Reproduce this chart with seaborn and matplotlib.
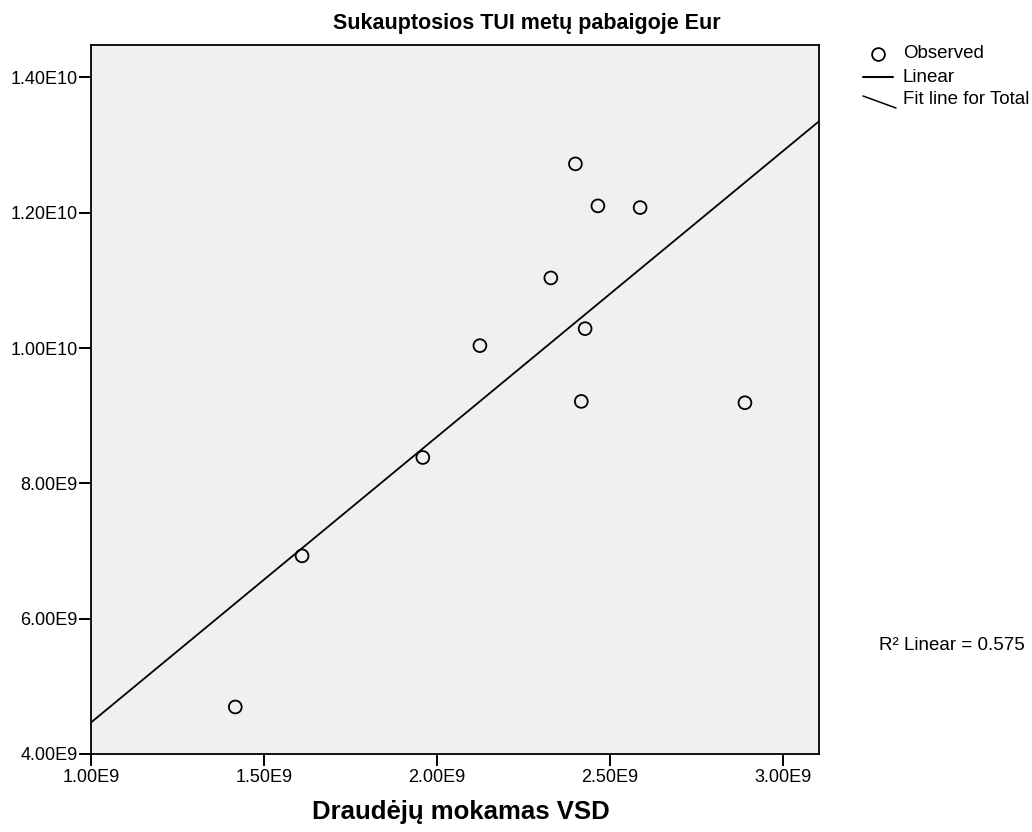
import numpy as np
import pandas as pd
import matplotlib
matplotlib.use("Agg")
import matplotlib.pyplot as plt
import seaborn as sns
from matplotlib.lines import Line2D

# ---- data ----
x_vsd = [1.417e9, 1.610e9, 1.959e9, 2.124e9, 2.329e9, 2.400e9,
         2.465e9, 2.587e9, 2.428e9, 2.417e9, 2.890e9]
y_tui = [4.695e9, 6.929e9, 8.383e9, 10.036e9, 11.037e9, 12.723e9,
         12.102e9, 12.077e9, 10.287e9, 9.212e9, 9.192e9]

x_ticks = [1.0e9, 1.5e9, 2.0e9, 2.5e9, 3.0e9]
x_tick_labels = ["1.00E9", "1.50E9", "2.00E9", "2.50E9", "3.00E9"]
y_ticks = [4.0e9, 6.0e9, 8.0e9, 10.0e9, 12.0e9, 14.0e9]
y_tick_labels = ["4.00E9", "6.00E9", "8.00E9", "1.00E10", "1.20E10", "1.40E10"]

title = "Sukauptosios TUI metų pabaigoje Eur"
x_label = "Draudėjų mokamas VSD"
legend_labels = ["Observed", "Linear", "Fit line for Total"]
r2_text = "R² Linear = 0.575"

df = pd.DataFrame({"x": x_vsd, "y": y_tui})

sns.set_theme(style="white")
plt.rcParams["font.family"] = ["Liberation Sans", "DejaVu Sans"]

W, H = 1032, 832
fig = plt.figure(figsize=(W / 100, H / 100), dpi=100)
ax = fig.add_axes([91 / W, 78 / H, 728 / W, 709 / H])
ax.set_facecolor("#F0F0F0")

xlim = (1.0e9, 3.104e9)
ylim = (4.0e9, 14.48e9)
ax.set_xlim(*xlim)
ax.set_ylim(*ylim)

sns.regplot(data=df, x="x", y="y", ax=ax, scatter=False, ci=None,
            truncate=False, color="black", line_kws=dict(lw=1.3))
sns.scatterplot(data=df, x="x", y="y", ax=ax, marker="o", s=85,
                facecolor="none", edgecolor="black", linewidth=1.3,
                zorder=3)

ax.set_xlim(*xlim)
ax.set_ylim(*ylim)
ax.set_xticks(x_ticks)
ax.set_xticklabels(x_tick_labels)
ax.set_yticks(y_ticks)
ax.set_yticklabels(y_tick_labels)
ax.set_xlabel("")
ax.set_ylabel("")
ax.tick_params(axis="both", which="major", bottom=True, left=True,
               top=False, right=False, direction="out", length=8.6,
               width=1.4, color="black", labelcolor="black", labelsize=13)
ax.tick_params(axis="x", pad=2)
ax.tick_params(axis="y", pad=1)
for sp in ax.spines.values():
    sp.set_visible(True)
    sp.set_color("black")
    sp.set_linewidth(1.3)

# title and axis label
fig.text(527 / W, 1 - 24 / H, title, ha="center", va="center",
         fontsize=15.5, fontweight="bold", color="black")
fig.text(461 / W, 1 - 812 / H, x_label, ha="center", va="center",
         fontsize=18.5, fontweight="bold", color="black")

# legend (drawn manually, SPSS style)
def fx(px):
    return px / W

def fy(py):
    return 1 - py / H

fig.add_artist(Line2D([fx(878)], [fy(54)], marker="o", markersize=9.2,
                      markerfacecolor="none", markeredgecolor="black",
                      markeredgewidth=1.3, linestyle="none",
                      transform=fig.transFigure))
fig.add_artist(Line2D([fx(863), fx(893)], [fy(77), fy(77)], color="black",
                      lw=1.5, transform=fig.transFigure))
fig.add_artist(Line2D([fx(863), fx(896)], [fy(96), fy(108)], color="black",
                      lw=1.1, transform=fig.transFigure))
for lab, py in zip(legend_labels, [54, 77, 100]):
    fig.text(fx(903), fy(py), lab, ha="left", va="center", fontsize=13.5,
             color="black")

fig.text(fx(879), fy(645), r2_text, ha="left", va="center", fontsize=13.5,
         color="black")

fig.savefig("out.png", dpi=100)
